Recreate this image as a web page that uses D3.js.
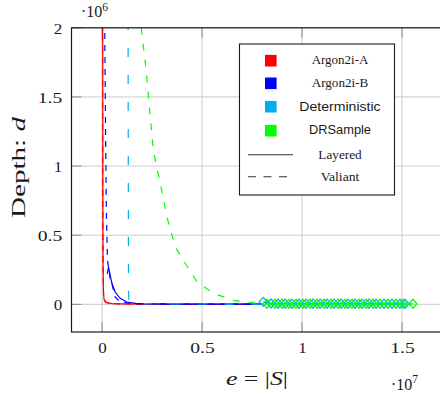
<!DOCTYPE html>
<html><head><meta charset="utf-8">
<script src="https://cdn.jsdelivr.net/npm/d3@7"></script>
<style>body{margin:0;background:#fff}svg{display:block}</style>
</head><body><svg id="c" width="440" height="398"></svg>
<script>
// ---- data (x in units of 1e7, y in units of 1e6) ----
const xTicks = [0, 0.5, 1, 1.5];
const yTicks = [0, 0.5, 1, 1.5, 2];
const seriesNames = ["Argon2i-A", "Argon2i-B", "Deterministic", "DRSample"];
const styleNames = ["Layered", "Valiant"];

const argonAValiantE = [0.002, 0.0025, 0.003, 0.004, 0.006, 0.01, 0.02, 0.05, 0.1, 0.2];
const argonAValiantD = [2.1, 1.5, 0.9, 0.4, 0.12, 0.04, 0.015, 0.006, 0.003, 0.002];
const argonALayeredE = [0.003, 0.0035, 0.004, 0.005, 0.007, 0.01, 0.015, 0.025, 0.05, 0.1, 0.2, 0.4, 0.6, 0.8];
const argonALayeredD = [2.1, 1.5, 0.8, 0.3, 0.08, 0.035, 0.018, 0.01, 0.005, 0.003, 0.002, 0.001, 0.001, 0.001];

const argonBValiantE = [0.013, 0.017, 0.021, 0.027, 0.04, 0.053, 0.065, 0.09, 0.15, 0.3, 0.5, 0.8];
const argonBValiantD = [2.05, 1.3, 0.7, 0.32, 0.19, 0.125, 0.053, 0.017, 0.006, 0.003, 0.002, 0.001];
const argonBLayeredE = [0.026, 0.032, 0.049, 0.065, 0.09, 0.124, 0.174, 0.3, 0.5, 0.8];
const argonBLayeredD = [0.22, 0.27, 0.152, 0.089, 0.043, 0.017, 0.005, 0.002, 0.001, 0.001];

const detValiantE = [0.13, 0.131, 0.132, 0.135, 0.2, 0.4, 0.6, 0.8];
const detValiantD = [2.05, 1.0, 0.1, 0.008, 0.005, 0.003, 0.002, 0.001];
const detLayeredE = [0.806, 0.845, 0.88, 0.915, 0.95, 0.985, 1.02, 1.055, 1.09, 1.125, 1.16, 1.195, 1.23, 1.265, 1.3, 1.335, 1.37, 1.41, 1.45, 1.49, 1.515];
const detLayeredD = [0.018, 0.006, 0.005, 0.005, 0.005, 0.005, 0.005, 0.005, 0.005, 0.005, 0.005, 0.005, 0.005, 0.005, 0.005, 0.005, 0.005, 0.005, 0.005, 0.005, 0.005];

const drsValiantE = [0.196, 0.22, 0.232, 0.257, 0.291, 0.324, 0.366, 0.416, 0.475, 0.558, 0.658, 0.79];
const drsValiantD = [2.0, 1.696, 1.502, 1.1, 0.875, 0.633, 0.415, 0.295, 0.162, 0.078, 0.029, 0.005];
const drsLayeredE = [0.825, 0.865, 0.9, 0.935, 0.97, 1.005, 1.04, 1.075, 1.11, 1.145, 1.18, 1.215, 1.25, 1.285, 1.32, 1.355, 1.39, 1.43, 1.47, 1.505, 1.555];
const drsLayeredD = [0.004, 0.004, 0.004, 0.004, 0.004, 0.004, 0.004, 0.004, 0.004, 0.004, 0.004, 0.004, 0.004, 0.004, 0.004, 0.004, 0.004, 0.004, 0.004, 0.004, 0.004];

// ---- layout / style ----
const colors = {"Argon2i-A": "#ff0000", "Argon2i-B": "#0000ff", "Deterministic": "#00aeef", "DRSample": "#00ff00"};
const dashes = {"Argon2i-A": "6,5", "Argon2i-B": "6,6", "Deterministic": "9,18", "DRSample": "7,9"};
const L = 71.5, R = 462, T = 27.8, B = 332;
const x = d3.scaleLinear().domain([-0.153, 1.8]).range([L, R]);
const y = d3.scaleLinear().domain([-0.2, 2]).range([B, T]);
const serif = "'Liberation Serif', 'Times New Roman', serif";
const sans = "'Liberation Sans', Arial, sans-serif";
const ink = "#1a1a1a";

const svg = d3.select("#c");
svg.append("rect").attr("width", 440).attr("height", 398).attr("fill", "#fff");

svg.append("defs").append("clipPath").attr("id", "clip")
  .append("rect").attr("x", L).attr("y", T).attr("width", R - L).attr("height", B - T);

// grid
const grid = svg.append("g");
grid.selectAll(".gx").data(xTicks).join("line")
  .attr("x1", d => x(d)).attr("x2", d => x(d)).attr("y1", T).attr("y2", B)
  .attr("stroke", "#cccccc").attr("stroke-width", 1);
grid.selectAll(".gy").data(yTicks).join("line")
  .attr("x1", L).attr("x2", R).attr("y1", d => y(d)).attr("y2", d => y(d))
  .attr("stroke", "#cccccc").attr("stroke-width", 1);
// tick marks (inside)
const tk = svg.append("g").attr("stroke", "#8c8c8c").attr("stroke-width", 1);
xTicks.forEach(v => {
  tk.append("line").attr("x1", x(v)).attr("x2", x(v)).attr("y1", B).attr("y2", B - 10);
  tk.append("line").attr("x1", x(v)).attr("x2", x(v)).attr("y1", T).attr("y2", T + 10);
});
yTicks.forEach(v => {
  tk.append("line").attr("x1", L).attr("x2", L + 10).attr("y1", y(v)).attr("y2", y(v));
});

// data
const plot = svg.append("g").attr("clip-path", "url(#clip)");
const line = d3.line().x(d => x(d[0])).y(d => y(d[1]));
const zip = (a, b) => a.map((v, i) => [v, b[i]]);
const series = [
  {name: "Argon2i-A", style: "Valiant", e: argonAValiantE, d: argonAValiantD},
  {name: "Argon2i-A", style: "Layered", e: argonALayeredE, d: argonALayeredD},
  {name: "Argon2i-B", style: "Valiant", e: argonBValiantE, d: argonBValiantD},
  {name: "Argon2i-B", style: "Layered", e: argonBLayeredE, d: argonBLayeredD},
  {name: "Deterministic", style: "Valiant", e: detValiantE, d: detValiantD},
  {name: "Deterministic", style: "Layered", e: detLayeredE, d: detLayeredD, marks: true},
  {name: "DRSample", style: "Valiant", e: drsValiantE, d: drsValiantD},
  {name: "DRSample", style: "Layered", e: drsLayeredE, d: drsLayeredD, marks: true}
];
const diamond = "M0,-4.5L4,0L0,4.5L-4,0Z";
series.forEach(s => {
  const pts = zip(s.e, s.d);
  plot.append("path").attr("d", line(pts)).attr("fill", "none")
    .attr("stroke", colors[s.name]).attr("stroke-width", 1.2)
    .attr("stroke-dasharray", s.style === "Valiant" ? dashes[s.name] : null);
  if (s.marks) {
    plot.selectAll(null).data(pts).join("path")
      .attr("d", diamond).attr("transform", d => `translate(${x(d[0])},${y(d[1])})`)
      .attr("fill", "none").attr("stroke", colors[s.name]).attr("stroke-width", 1.3);
  }
});

// frame
svg.append("rect").attr("x", L).attr("y", T).attr("width", R - L).attr("height", B - T)
  .attr("fill", "none").attr("stroke", ink).attr("stroke-width", 1.2);

// axes labels via d3 axes
const fmt = d => d3.format("")(d);
const ax = svg.append("g").attr("transform", `translate(0,${B})`)
  .call(d3.axisBottom(x).tickValues(xTicks).tickFormat(fmt).tickSize(0).tickPadding(10.2));
const ay = svg.append("g").attr("transform", `translate(${L},0)`)
  .call(d3.axisLeft(y).tickValues(yTicks).tickFormat(fmt).tickSize(0).tickPadding(9.2));
[ax, ay].forEach(g => {
  g.select(".domain").remove();
  g.selectAll("text").attr("font-family", serif).attr("font-size", 15.5).attr("fill", ink)
    .each(function(d) {
      const t = d3.select(this);
      t.attr("textLength", String(d).length > 1 ? 24.5 : 8.5).attr("lengthAdjust", "spacingAndGlyphs");
    });
});
ay.selectAll("text").attr("dy", "0.34em");

// multipliers
const m6 = svg.append("text").attr("x", 81).attr("y", 17).attr("font-family", serif).attr("font-size", 16).attr("fill", ink);
m6.append("tspan").text("·10");
m6.append("tspan").attr("font-size", 11.5).attr("dy", -6.5).text("6");
const m7 = svg.append("text").attr("x", 391).attr("y", 389.5).attr("font-family", serif).attr("font-size", 16).attr("fill", ink);
m7.append("tspan").text("·10");
m7.append("tspan").attr("font-size", 11.5).attr("dy", -6.5).text("7");

// axis titles
const xl = svg.append("text").attr("x", 226).attr("y", 384.5).attr("font-family", serif).attr("font-size", 19)
  .attr("fill", ink).attr("textLength", 62).attr("lengthAdjust", "spacingAndGlyphs");
xl.append("tspan").attr("font-style", "italic").text("e");
xl.append("tspan").text(" = |");
xl.append("tspan").attr("font-style", "italic").text("S");
xl.append("tspan").text("|");
const yl = svg.append("text").attr("transform", "translate(25,218) rotate(-90)")
  .attr("font-family", serif).attr("font-size", 18.5).attr("fill", ink)
  .attr("textLength", 101).attr("lengthAdjust", "spacingAndGlyphs");
yl.append("tspan").text("Depth: ");
yl.append("tspan").attr("font-style", "italic").text("d");

// legend
const lg = svg.append("g");
lg.append("rect").attr("x", 239.5).attr("y", 44).attr("width", 155).attr("height", 151)
  .attr("fill", "#fff").attr("stroke", ink).attr("stroke-width", 1.1);
const legendRows = [
  {label: "Argon2i-A", font: serif, w: 56.7, base: 63.5, cy: 60.7},
  {label: "Argon2i-B", font: serif, w: 56.7, base: 86.5, cy: 83.3},
  {label: "Deterministic", font: sans, w: 81.3, base: 110.7, cy: 106.7},
  {label: "DRSample", font: sans, w: 62, base: 134, cy: 130.7}
];
legendRows.forEach(r => {
  lg.append("rect").attr("x", 265).attr("y", r.cy - 5.8).attr("width", 11.6).attr("height", 11.6).attr("fill", colors[r.label]);
  lg.append("text").attr("x", 340).attr("y", r.base).attr("text-anchor", "middle")
    .attr("font-family", r.font).attr("font-size", 13.5).attr("fill", ink)
    .attr("textLength", r.w).attr("lengthAdjust", "spacingAndGlyphs").text(r.label);
});
const styleRows = [
  {label: styleNames[0], dash: null, w: 43.3, base: 158.5, cy: 154.8},
  {label: styleNames[1], dash: "8,7.5", w: 38.7, base: 180.7, cy: 176.8}
];
styleRows.forEach(r => {
  lg.append("line").attr("x1", 248).attr("x2", 293).attr("y1", r.cy).attr("y2", r.cy)
    .attr("stroke", "#333").attr("stroke-width", 1.1).attr("stroke-dasharray", r.dash);
  lg.append("text").attr("x", 340).attr("y", r.base).attr("text-anchor", "middle")
    .attr("font-family", serif).attr("font-size", 13.5).attr("fill", ink)
    .attr("textLength", r.w).attr("lengthAdjust", "spacingAndGlyphs").text(r.label);
});
</script></body></html>
